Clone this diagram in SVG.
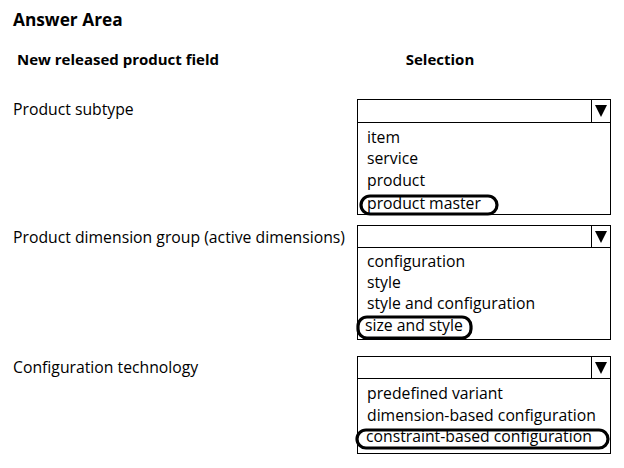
<svg xmlns="http://www.w3.org/2000/svg" width="624" height="468" viewBox="0 0 624 468">
<style>
text{font-family:"Open Sans","Noto Sans","Liberation Sans",sans-serif;fill:#000;font-size:15.75px}
.b{font-weight:bold}
.box{fill:#fff;stroke:#000;stroke-width:1}
.oval{fill:none;stroke:#000;stroke-width:3.2}
</style>
<rect width="624" height="468" fill="#fff"/>
<text class="b" x="13" y="26" style="font-size:17.3px">Answer Area</text>
<text class="b" x="17" y="65" style="font-size:15px">New released product field</text>
<text class="b" x="440" y="65" text-anchor="middle" style="font-size:15px">Selection</text>
<g id="field1"><text x="13" y="115">Product subtype</text></g>
<g id="field2"><text x="13" y="243">Product dimension group (active dimensions)</text></g>
<g id="field3"><text x="13" y="373">Configuration technology</text></g>
<g id="dropdown1">
<rect class="box" x="357.5" y="99.5" width="253" height="115"/>
<line x1="357.5" y1="122.5" x2="610.5" y2="122.5" stroke="#000"/>
<line x1="591.5" y1="99.5" x2="591.5" y2="122.5" stroke="#000"/>
<polygon points="595,105 607,105 601,117" fill="#000"/>
<text x="367" y="143">item</text>
<text x="367" y="164">service</text>
<text x="367" y="186">product</text>
<text x="367" y="209">product master</text>
<rect class="oval" x="361" y="196" width="136" height="18" rx="9"/>
</g>
<g id="dropdown2">
<rect class="box" x="357.5" y="225.5" width="253" height="114"/>
<line x1="357.5" y1="247.5" x2="610.5" y2="247.5" stroke="#000"/>
<line x1="591.5" y1="225.5" x2="591.5" y2="247.5" stroke="#000"/>
<polygon points="595,231 607,231 601,243" fill="#000"/>
<text x="367" y="267">configuration</text>
<text x="367" y="288">style</text>
<text x="367" y="309">style and configuration</text>
<text x="365" y="331">size and style</text>
<rect class="oval" x="358" y="317" width="113" height="21" rx="9"/>
</g>
<g id="dropdown3">
<rect class="box" x="357.5" y="356.5" width="253" height="97"/>
<line x1="357.5" y1="378.5" x2="610.5" y2="378.5" stroke="#000"/>
<line x1="591.5" y1="356.5" x2="591.5" y2="378.5" stroke="#000"/>
<polygon points="595,362 607,362 601,374" fill="#000"/>
<text x="367" y="399">predefined variant</text>
<text x="367" y="421">dimension-based configuration</text>
<text x="366" y="442">constraint-based configuration</text>
<rect class="oval" x="357" y="430" width="251" height="18" rx="9"/>
</g>
</svg>
